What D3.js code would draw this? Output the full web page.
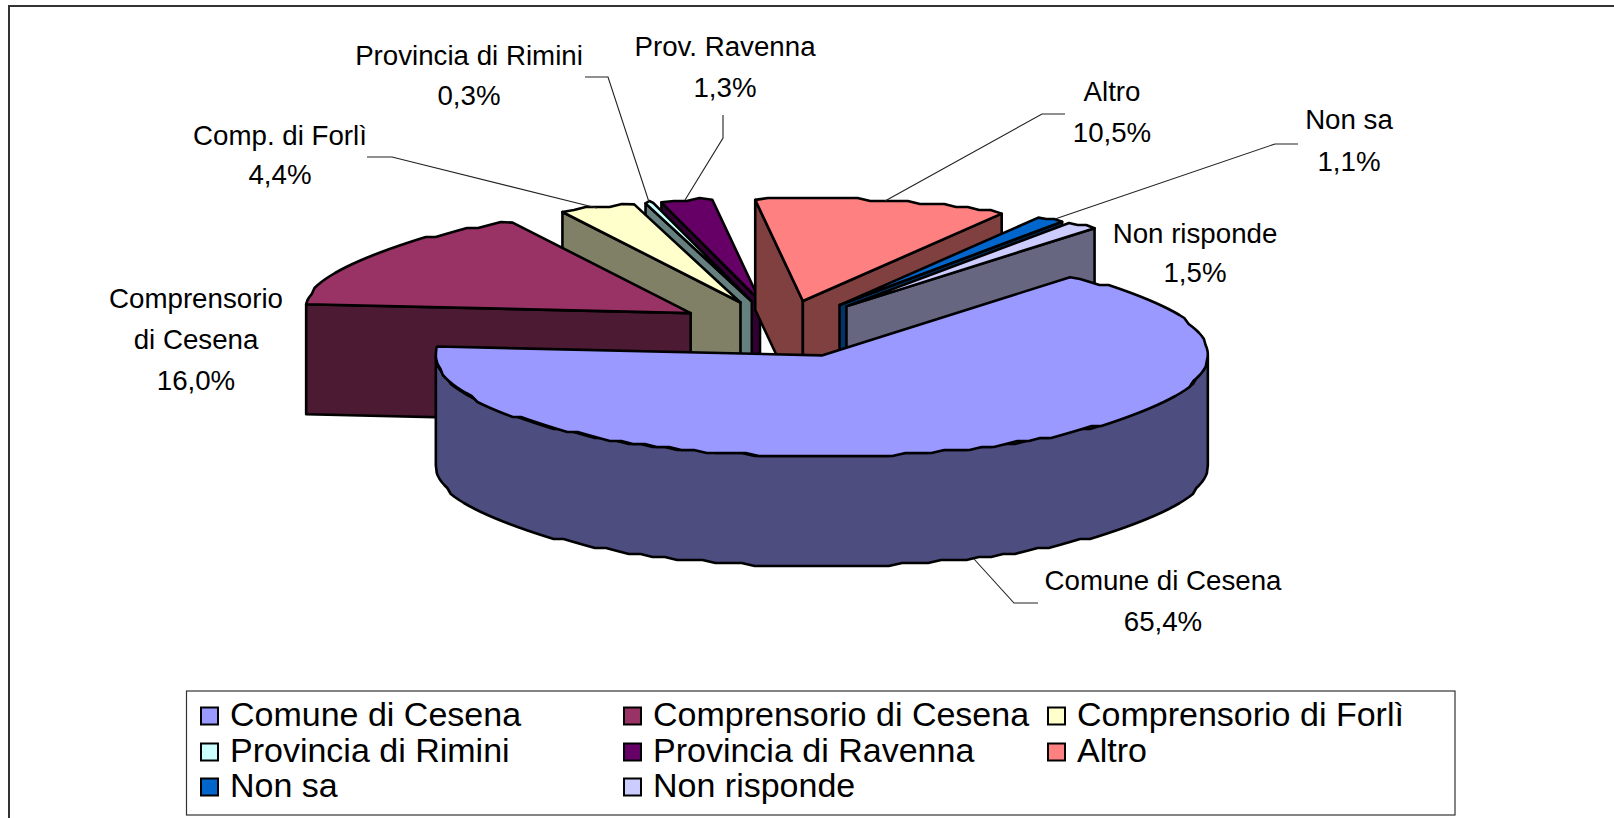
<!DOCTYPE html>
<html><head><meta charset="utf-8">
<script src="https://cdn.jsdelivr.net/npm/d3@7"></script>
<style>html,body{margin:0;padding:0;background:#fff}svg{display:block}text{font-family:"Liberation Sans",Arial,sans-serif;fill:#000}</style>
</head><body><svg id="c" width="1614" height="818"></svg>
<script>
const categories=["Comune di Cesena","Comprensorio di Cesena","Comprensorio di Forlì","Provincia di Rimini","Provincia di Ravenna","Altro","Non sa","Non risponde"];
// printed percentages
const values=[65.4,16.0,4.4,0.3,1.3,10.5,1.1,1.5];
// share of the circle each wedge actually occupies in the picture (differs slightly from the printed labels)
const drawnShares=[65.28,15.97,3.19,0.33,2.14,10.58,1.17,1.33];
const sliceLabels=[["Comune di Cesena"],["Comprensorio","di Cesena"],["Comp. di Forlì"],["Provincia di Rimini"],["Prov. Ravenna"],["Altro"],["Non sa"],["Non risponde"]];
const colors=["#9999FF","#993366","#FFFFCC","#CCFFFF","#660066","#FF8080","#0066CC","#CCCCFF"];

const labelX=[1163,196,280,469,725,1112,1349,1195];
const labelY=[580,298,135,55,46,91,119,233];
const lineGap=[41,41,39,40,41,41,42,39];
const leaders=[
 [[1038,603],[1014,603],[974,559]],
 [],
 [[367,157],[392,157],[597,208]],
 [[585,77],[608,77],[649,202]],
 [[723,115],[723,138],[685,200]],
 [[1065,114],[1042,114],[885,201]],
 [[1298,144],[1275,144],[1055,219]],
 []
];

const svg=d3.select("#c");
const cx=780.5,cy=329,rx=386,ry=102,depth=110,explode=0.28,startDeg=40,stepDeg=2,grid=3;
const TAU=Math.PI*2;
const snap=v=>Math.floor(v/grid+0.2)*grid;
const pct=v=>d3.format(".1f")(v).replace(".",",")+"%";

const pie=d3.pie().sort(null).startAngle(startDeg*Math.PI/180).endAngle(startDeg*Math.PI/180+TAU);
const arcs=pie(drawnShares);

const sx=d3.scaleLinear().domain([-1,1]).range([-rx,rx]);
const sy=d3.scaleLinear().domain([-1,1]).range([ry,-ry]); // cos(angle)=1 is the back of the pie

function half(c){const r=d3.rgb(c);return d3.rgb(r.r/2,r.g/2,r.b/2).formatHex();}
const line=d3.line();

const slices=arcs.map((a,i)=>{
  const mid=(a.startAngle+a.endAngle)/2;
  const ax=cx+explode*sx(Math.sin(mid)), ay=cy+explode*sy(Math.cos(mid));
  const pt=t=>[ax+sx(Math.sin(t)),ay+sy(Math.cos(t))];
  const rim=(t0,t1)=>{
    const n=Math.max(2,Math.ceil((t1-t0)/(stepDeg*Math.PI/180)));
    return d3.range(n+1).map(k=>{
      const p=pt(t0+(t1-t0)*k/n);
      return (k===0||k===n)?p:[p[0],snap(p[1])];
    });
  };
  return {i,a,mid,apex:[ax,ay],pt,rim};
});

const down=pts=>pts.map(p=>[p[0],p[1]+depth]);
const g=svg.append("g").attr("stroke","#000").attr("stroke-width",2.6).attr("stroke-linejoin","round");
function poly(pts,fill){g.append("path").attr("d",line(pts)+"Z").attr("fill",fill);}

// paint back to front: slices pointing furthest away first
slices.slice().sort((p,q)=>Math.cos(q.mid)-Math.cos(p.mid)).forEach(s=>{
  const {a,apex,mid}=s, side=half(colors[s.i]);
  const P=s.pt(a.startAngle),Q=s.pt(a.endAngle),M=s.pt(mid);
  const visible=E=>{
    const yAt=apex[1]+(E[1]-apex[1])*(M[0]-apex[0])/(E[0]-apex[0]);
    return M[1]<yAt;
  };
  const lo=Math.max(a.startAngle,Math.PI/2), hi=Math.min(a.endAngle,Math.PI*1.5);
  if(hi>lo){const r=s.rim(lo,hi);poly(r.concat(down(r).reverse()),side);}
  [P,Q].forEach(E=>{ if(visible(E)) poly([apex,E,[E[0],E[1]+depth],[apex[0],apex[1]+depth]],side); });
  poly([apex].concat(s.rim(a.startAngle,a.endAngle)),colors[s.i]);
});

// chart frame (open on right and bottom)
svg.append("path").attr("d","M9,818V6H1614").attr("fill","none").attr("stroke","#333").attr("stroke-width",2);

// leader lines
svg.append("g").selectAll("path").data(leaders.filter(l=>l.length)).join("path")
  .attr("d",line).attr("fill","none").attr("stroke","#222").attr("stroke-width",1.1);

// data labels
const lg=svg.append("g").attr("font-size",27.7).attr("text-anchor","middle");
sliceLabels.forEach((ls,i)=>{
  ls.concat([pct(values[i])]).forEach((t,k)=>{
    lg.append("text").attr("x",labelX[i]).attr("y",labelY[i]+k*lineGap[i]).attr("dy","0.35em").text(t);
  });
});

// legend
const colX=[200,623,1047], rowY=[716,752,787];
const leg=svg.append("g");
leg.append("rect").attr("x",186.5).attr("y",691).attr("width",1268.5).attr("height",124).attr("fill","#fff").attr("stroke","#333").attr("stroke-width",1.2);
categories.forEach((c,i)=>{
  const x=colX[i%3],y=rowY[Math.floor(i/3)];
  leg.append("rect").attr("x",x+1).attr("y",y-8.5).attr("width",17).attr("height",17).attr("fill",colors[i]).attr("stroke","#000").attr("stroke-width",2);
  leg.append("text").attr("x",x+30).attr("y",y-1.5).attr("dy","0.35em").attr("font-size",34).text(c);
});
</script></body></html>
